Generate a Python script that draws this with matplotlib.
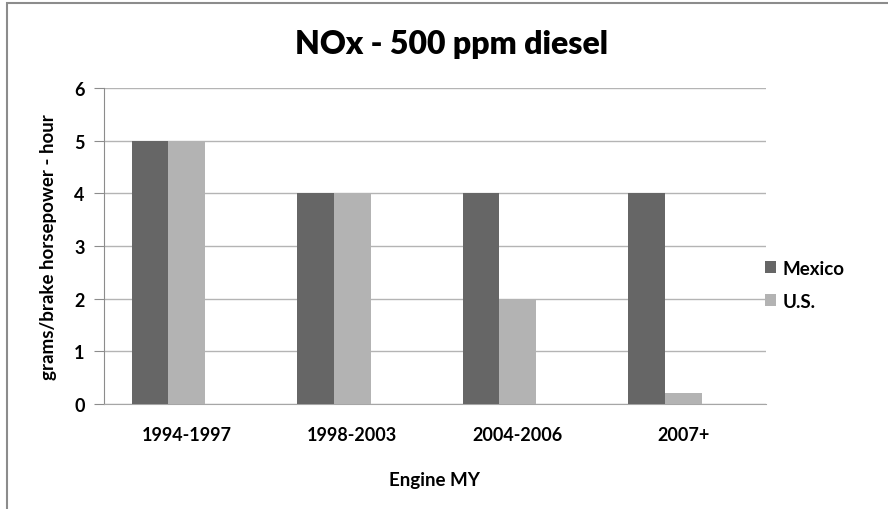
import numpy as np
import matplotlib as mpl
mpl.use('Agg')
import matplotlib.pyplot as plt
from matplotlib.patches import Rectangle

categories = ['1994-1997', '1998-2003', '2004-2006', '2007+']
mexico = [5, 4, 4, 4]
us = [5, 4, 2, 0.2]

plt.rcParams['font.family'] = ['Lato', 'DejaVu Sans']

fig = plt.figure(figsize=(8.88, 5.10), dpi=100)
ax = fig.add_axes([0.1171, 0.2059, 0.7455, 0.6196])

# Excel-style layout: 3 slots per category (third empty), gap width 150%
w = 1 / 4.5
x = np.arange(len(categories))
ax.bar(x - w, mexico, w, align='center', color='#666666', label='Mexico', zorder=3)
ax.bar(x, us, w, align='center', color='#b3b3b3', label='U.S.', zorder=3)

ax.set_xlim(-0.5, len(categories) - 0.5)
ax.set_ylim(0, 6)
ax.set_yticks(range(7))
ax.set_xticks(x)
ax.set_xticklabels(categories)
ax.grid(axis='y', color='#b4b4b4', linewidth=1, zorder=0)

for s in ['top', 'right']:
    ax.spines[s].set_visible(False)
ax.spines['left'].set_color('#8c8c8c')
ax.spines['bottom'].set_color('#a6a6a6')
ax.tick_params(axis='y', length=7, color='#8c8c8c', labelsize=13, pad=7)
ax.tick_params(axis='x', length=0, labelsize=13, pad=16)
for lbl in ax.get_xticklabels() + ax.get_yticklabels():
    lbl.set_fontweight('bold')

ax.set_xlabel('Engine MY', fontsize=13.5, fontweight='bold', labelpad=20)
ax.set_ylabel('grams/brake horsepower - hour', fontsize=13.5, fontweight='bold', labelpad=12)
fig.text(0.508, 0.912, 'NOx - 500 ppm diesel', ha='center', va='center',
         fontsize=23, fontweight='heavy')

fig.legend(loc='center left', bbox_to_anchor=(0.843, 0.44), frameon=False,
           handlelength=0.55, handleheight=0.55, handletextpad=0.35,
           labelspacing=0.85, prop={'size': 13.5, 'weight': 'bold'})

# chart frame (top and left edges visible)
fig.add_artist(Rectangle((7 / 888, -0.05), 1.1, 1 - 4 / 510 + 0.05,
                         transform=fig.transFigure, fill=False,
                         edgecolor='#8c8c8c', linewidth=1.5))

fig.savefig('out.png', dpi=100)
